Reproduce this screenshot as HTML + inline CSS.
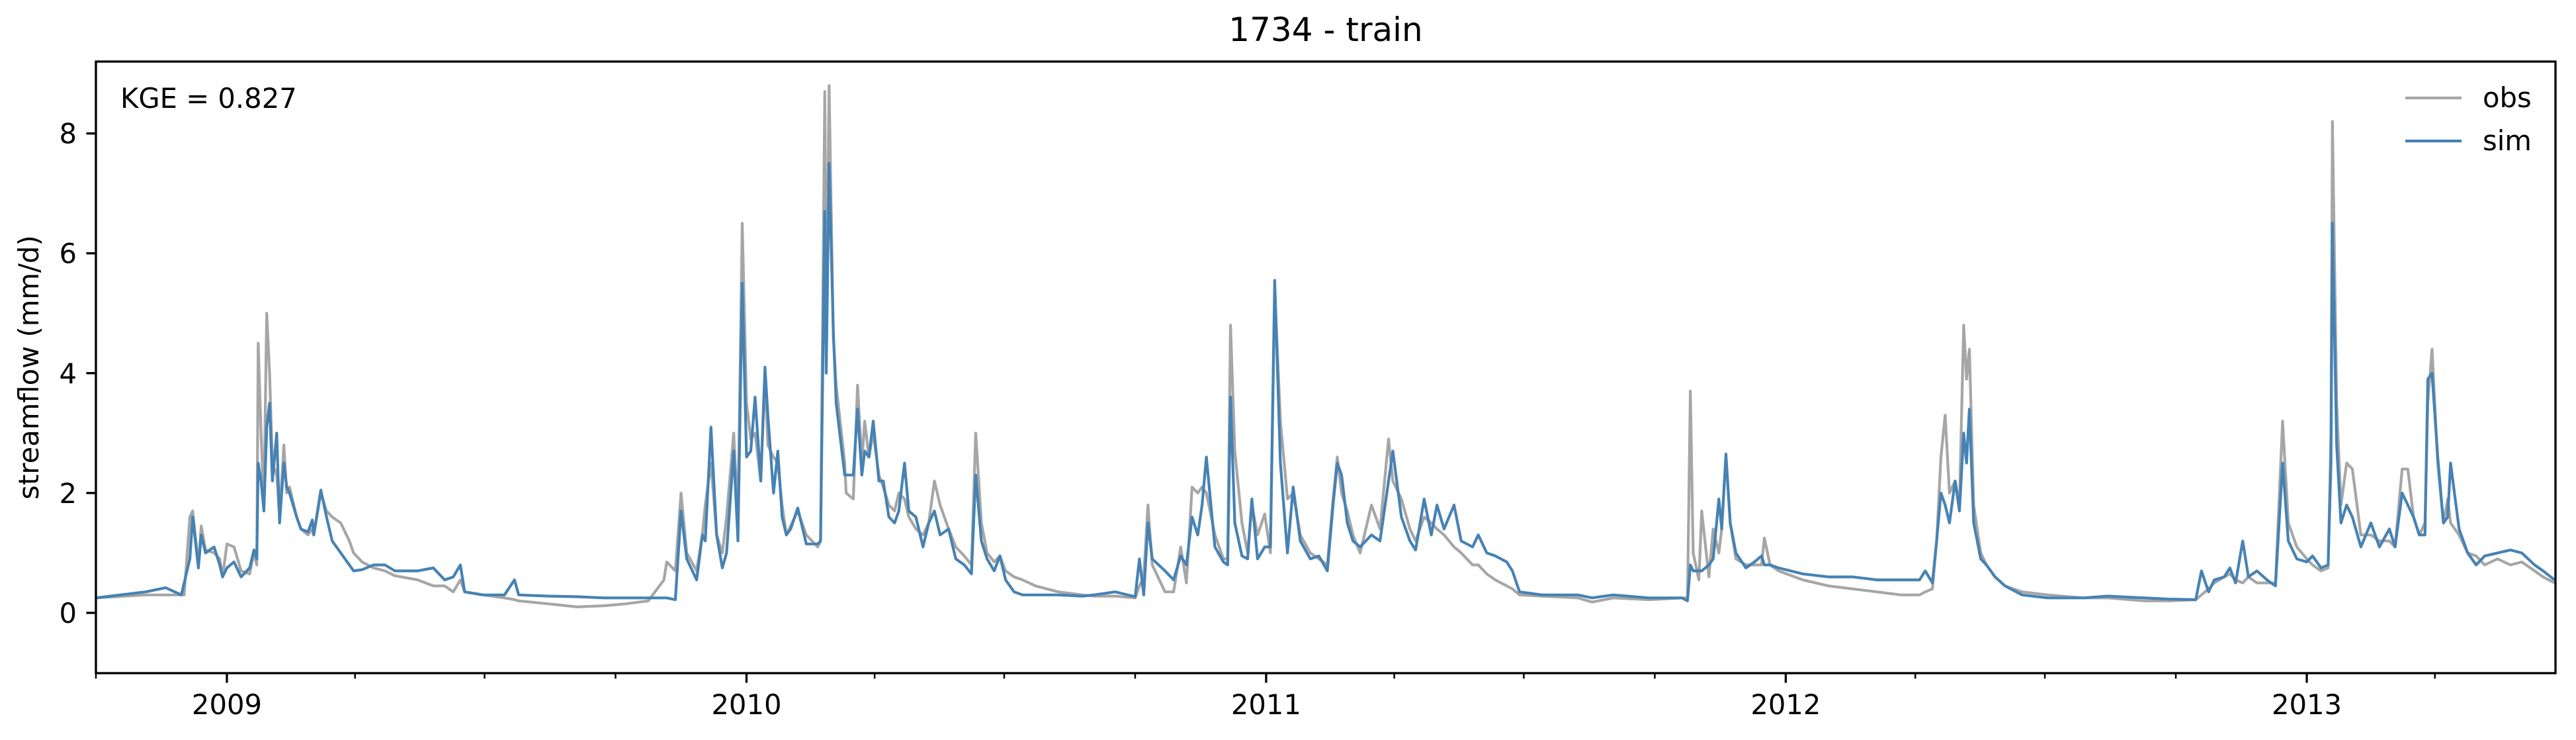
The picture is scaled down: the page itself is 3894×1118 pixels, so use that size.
<!DOCTYPE html>
<html><head><meta charset="utf-8"><style>
html,body{margin:0;padding:0;background:#fff;}
svg{display:block;font-family:"DejaVu Sans","Liberation Sans",sans-serif;}
</style></head><body>
<svg id="chart" width="3894" height="1118" viewBox="0 0 3894 1118" xmlns="http://www.w3.org/2000/svg">
<rect width="3894" height="1118" fill="#fff"/>
<text x="2004" y="62" font-size="50" text-anchor="middle">1734 - train</text>
<text transform="translate(58,555) rotate(-90)" font-size="41.7" text-anchor="middle">streamflow (mm/d)</text>
<g id="plot"></g>
<g id="axes"></g>
<text x="182" y="163" font-size="41.7">KGE = 0.827</text>
<g>
<line x1="3636" y1="148" x2="3721" y2="148" stroke="#a6a6a6" stroke-width="4.2"/>
<text x="3753" y="162" font-size="41.7">obs</text>
<line x1="3636" y1="213" x2="3721" y2="213" stroke="#4682b4" stroke-width="4.2"/>
<text x="3753" y="227" font-size="41.7">sim</text>
</g>
</svg>
<script>
const dayOffsets=[0,35,49,60,62,66,68,72,74,77,83,87,89,92,97,102,108,111,113,114,116,118,120,122,124,127,129,132,134,136,141,144,149,152,153,158,162,166,172,178,181,187,195,203,210,226,237,245,251,256,259,272,287,294,297,318,338,357,372,388,399,401,407,411,415,422,426,428,432,436,440,443,448,451,454,457,460,463,467,470,472,476,479,482,485,488,493,499,507,509,512,513,515,518,520,526,527,532,535,538,540,543,546,550,553,557,561,564,568,571,576,581,585,589,593,599,604,610,615,618,622,626,631,635,639,645,651,660,676,693,701,716,730,733,736,739,742,751,757,762,766,770,774,777,780,786,792,795,797,800,805,809,812,816,821,825,828,832,837,841,846,853,859,865,869,872,875,879,883,888,896,902,908,911,917,923,927,933,938,942,947,954,959,967,971,977,983,991,995,1000,1016,1041,1051,1066,1091,1114,1118,1120,1122,1126,1128,1133,1136,1140,1142,1145,1148,1152,1159,1165,1170,1172,1176,1182,1199,1217,1234,1251,1268,1281,1285,1290,1293,1296,1299,1302,1306,1309,1312,1314,1316,1319,1324,1328,1334,1341,1353,1371,1396,1413,1439,1456,1475,1479,1484,1488,1495,1499,1503,1508,1512,1518,1525,1531,1536,1540,1546,1553,1557,1563,1568,1570,1571,1574,1577,1581,1585,1591,1598,1604,1611,1615,1620,1624,1628,1632,1636,1638,1641,1645,1649,1652,1654,1660,1666,1672,1678,1687,1696,1704,1713,1719,1727];
const obsValues=[0.25,0.3,0.3,0.3,0.3,1.6,1.7,0.8,1.45,1.05,1.0,0.9,0.6,1.15,1.1,0.7,0.65,1.0,0.8,4.5,3.0,1.8,5.0,4.0,2.5,2.3,1.6,2.8,2.0,2.1,1.6,1.4,1.3,1.4,1.3,2.0,1.7,1.6,1.5,1.2,1.0,0.85,0.75,0.7,0.62,0.55,0.45,0.45,0.35,0.55,0.35,0.3,0.25,0.22,0.2,0.15,0.1,0.12,0.15,0.2,0.55,0.85,0.7,2.0,1.0,0.7,1.3,1.8,2.5,1.3,1.0,1.6,3.0,1.6,6.5,3.5,2.9,3.0,2.2,4.0,2.8,2.6,2.5,1.8,1.3,1.45,1.7,1.3,1.1,1.2,8.7,4.5,8.8,4.6,3.8,2.5,2.0,1.9,3.8,2.5,3.2,2.6,3.0,2.3,2.1,1.8,1.7,2.0,1.9,1.6,1.4,1.3,1.5,2.2,1.8,1.4,1.1,0.95,0.8,3.0,1.5,1.0,0.85,0.95,0.7,0.6,0.55,0.45,0.35,0.3,0.28,0.28,0.25,0.45,0.6,1.8,0.8,0.35,0.35,1.1,0.5,2.1,2.0,2.1,2.0,1.3,0.9,0.9,4.8,2.7,1.5,1.0,1.8,1.3,1.65,1.0,5.4,3.2,1.9,2.0,1.3,1.0,0.9,0.8,1.9,2.6,2.0,1.7,1.3,1.0,1.8,1.4,2.9,2.2,1.9,1.4,1.2,1.6,1.5,1.4,1.3,1.1,1.0,0.8,0.8,0.65,0.55,0.45,0.4,0.3,0.28,0.25,0.18,0.25,0.22,0.25,0.25,3.7,1.0,0.55,1.7,0.6,1.4,1.0,1.4,2.6,1.5,0.9,0.8,0.8,0.8,1.25,0.8,0.7,0.55,0.45,0.4,0.35,0.3,0.3,0.35,0.4,1.2,2.6,3.3,2.0,2.2,1.8,4.8,3.9,4.4,1.8,1.0,0.8,0.6,0.45,0.35,0.3,0.25,0.25,0.2,0.2,0.22,0.3,0.4,0.5,0.6,0.65,0.55,0.5,0.6,0.5,0.5,0.5,3.2,1.5,1.1,0.9,0.8,0.7,0.75,3.0,8.2,3.5,1.8,2.5,2.4,1.3,1.3,1.2,1.2,1.1,2.4,2.4,1.6,1.3,1.5,3.5,4.4,2.5,1.5,1.9,1.5,1.3,1.0,0.95,0.8,0.9,0.8,0.85,0.7,0.6,0.5];
const simValues=[0.25,0.35,0.42,0.3,0.5,0.9,1.6,0.75,1.3,1.0,1.1,0.8,0.6,0.75,0.85,0.6,0.75,1.05,0.9,2.5,2.2,1.7,3.1,3.5,2.2,3.0,1.5,2.5,2.1,2.0,1.6,1.4,1.35,1.55,1.3,2.05,1.6,1.2,1.0,0.8,0.7,0.72,0.8,0.8,0.7,0.7,0.75,0.55,0.6,0.8,0.35,0.3,0.3,0.55,0.3,0.28,0.27,0.25,0.25,0.25,0.25,0.25,0.22,1.7,0.9,0.55,1.3,1.2,3.1,1.3,0.75,1.0,2.7,1.2,5.5,2.6,2.7,3.6,2.2,4.1,3.3,2.0,2.7,1.6,1.3,1.4,1.75,1.15,1.15,1.2,6.7,4.0,7.5,4.7,3.5,2.3,2.3,2.3,3.4,2.3,2.7,2.6,3.2,2.2,2.2,1.6,1.5,1.7,2.5,1.7,1.6,1.1,1.5,1.7,1.3,1.4,0.9,0.8,0.65,2.3,1.2,0.9,0.7,0.95,0.55,0.35,0.3,0.3,0.3,0.28,0.3,0.35,0.27,0.9,0.3,1.5,0.9,0.7,0.55,0.95,0.8,1.6,1.3,1.8,2.6,1.1,0.85,0.8,3.6,1.5,0.95,0.9,1.9,0.9,1.1,1.1,5.55,2.5,1.0,2.1,1.2,0.9,0.95,0.7,1.8,2.5,2.3,1.5,1.2,1.1,1.3,1.2,2.2,2.7,1.6,1.2,1.05,1.9,1.3,1.8,1.4,1.8,1.2,1.1,1.3,1.0,0.95,0.85,0.7,0.35,0.3,0.3,0.25,0.3,0.25,0.25,0.2,0.8,0.7,0.7,0.7,0.8,0.9,1.9,1.4,2.65,1.5,1.0,0.75,0.85,0.95,0.8,0.8,0.75,0.65,0.6,0.6,0.55,0.55,0.55,0.7,0.5,1.2,2.0,1.8,1.5,2.2,1.7,3.0,2.5,3.4,1.5,0.9,0.8,0.6,0.45,0.3,0.25,0.25,0.28,0.25,0.23,0.22,0.7,0.35,0.55,0.6,0.75,0.5,1.2,0.6,0.7,0.55,0.45,2.5,1.2,0.9,0.85,0.95,0.75,0.8,2.5,6.5,2.8,1.5,1.8,1.6,1.1,1.5,1.1,1.4,1.1,2.0,1.8,1.6,1.3,1.3,3.9,4.0,2.6,1.5,1.6,2.5,1.4,1.0,0.8,0.95,1.0,1.05,1.0,0.8,0.7,0.55];
const yTickValues=[0,2,4,6,8];
const yearLabels=["2009","2010","2011","2012","2013"];

const NS="http://www.w3.org/2000/svg";
const L=145,R=3863,T=93,B=1017;
const START=Date.UTC(2008,9,1), DAY=86400000;
const DMAX=1727.7, YMIN=-1.006, YMAX=9.2;
function xDay(d){return L+(d/DMAX)*(R-L);}
function xDate(t){return xDay((t-START)/DAY);}
function y(v){return B-(v-YMIN)/(YMAX-YMIN)*(B-T);}
function mk(tag,attrs,parent){const e=document.createElementNS(NS,tag);for(const k in attrs)e.setAttribute(k,attrs[k]);parent.appendChild(e);return e;}

const plot=document.getElementById('plot');
const axes=document.getElementById('axes');
const clip=mk('clipPath',{id:'clip'},plot);
mk('rect',{x:L,y:T,width:R-L,height:B-T},clip);

function series(vals,color,name){
  let d='';
  for(let i=0;i<dayOffsets.length;i++){d+=(i?'L':'M')+xDay(dayOffsets[i]).toFixed(1)+','+y(vals[i]).toFixed(1);}
  const p=mk('path',{d:d,fill:'none',stroke:color,'stroke-width':4.2,'stroke-linejoin':'round','clip-path':'url(#clip)'},plot);
  
  
}
series(obsValues,'#a6a6a6','obs-line');
series(simValues,'#4682b4','sim-line');

const frame=mk('rect',{x:L,y:T,width:R-L,height:B-T,fill:'none',stroke:'#000','stroke-width':3.3},axes);



yTickValues.forEach(v=>{
  const yy=y(v);
  const t=mk('line',{x1:L-14.6,x2:L,y1:yy,y2:yy,stroke:'#000','stroke-width':3.3},axes);
  
  
  const lb=mk('text',{x:L-29,y:yy+15,'font-size':41.7,'text-anchor':'end'},axes);
  lb.textContent=String(v);
  
  
});

yearLabels.forEach(ys=>{
  const yr=parseInt(ys,10);
  const xx=xDate(Date.UTC(yr,0,1));
  const t=mk('line',{x1:xx,x2:xx,y1:B,y2:B+14.6,stroke:'#000','stroke-width':3.3},axes);
  
  
  const lb=mk('text',{x:xx,y:B+62,'font-size':41.7,'text-anchor':'middle'},axes);
  lb.textContent=ys;
  
  
});
for(let yr=2008;yr<=2013;yr++){
  [3,6,9].forEach(m=>{
    const t0=Date.UTC(yr,m,1);
    const d=(t0-START)/DAY;
    if(d<0||d>DMAX)return;
    const xx=xDate(t0);
    const t=mk('line',{x1:xx,x2:xx,y1:B,y2:B+8.3,stroke:'#000','stroke-width':2.5},axes);
    
    
  });
}
</script>
</body></html>
